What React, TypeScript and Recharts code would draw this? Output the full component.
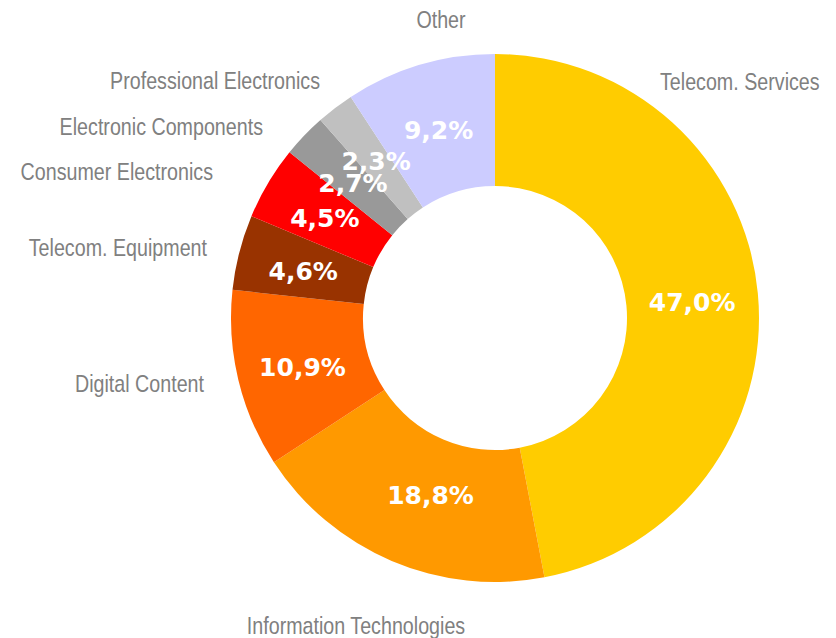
import React from "react";
import { PieChart, Pie, Cell } from "recharts";

const segments = [
  "Telecom. Services",
  "Information Technologies",
  "Digital Content",
  "Telecom. Equipment",
  "Consumer Electronics",
  "Electronic Components",
  "Professional Electronics",
  "Other",
];
const shares = [47.0, 18.8, 10.9, 4.6, 4.5, 2.7, 2.3, 9.2];

const colors = ["#FFCC00", "#FF9900", "#FF6600", "#993300", "#FF0000", "#999999", "#C0C0C0", "#CCCCFF"];

// where the category names sit, relative to the pie centre
const namePos: { dx: number; dy: number; anchor: "start" | "middle" | "end" }[] = [
  { dx: 165, dy: -236, anchor: "start" },
  { dx: -139, dy: 308, anchor: "middle" },
  { dx: -291, dy: 66, anchor: "end" },
  { dx: -288, dy: -70, anchor: "end" },
  { dx: -282, dy: -146, anchor: "end" },
  { dx: -232, dy: -191, anchor: "end" },
  { dx: -175, dy: -237, anchor: "end" },
  { dx: -54, dy: -298, anchor: "middle" },
];

// small nudges of the percentage labels off the mid-radius point
const pctNudge = [
  [0, 3],
  [13, -5],
  [0, 3],
  [0, 3],
  [0, 2],
  [1, 2],
  [1, 1],
  [0, 2],
];

const data = segments.map((name, i) => ({ name, value: shares[i] }));

const RAD = Math.PI / 180;
const NARROW = 0.82;

function renderLabel(props: any) {
  const { cx, cy, midAngle, innerRadius, outerRadius, value, index } = props;
  const r = (innerRadius + outerRadius) / 2;
  const x = cx + r * Math.cos(-midAngle * RAD) + pctNudge[index][0];
  const y = cy + r * Math.sin(-midAngle * RAD) + pctNudge[index][1];
  const pos = namePos[index];
  return (
    <g key={`lbl-${index}`}>
      <text
        x={x}
        y={y}
        fill="#fff"
        textAnchor="middle"
        dominantBaseline="central"
        fontFamily="'DejaVu Sans', Verdana, sans-serif"
        fontWeight="bold"
        fontSize={25}
      >
        {value.toFixed(1).replace(".", ",")}%
      </text>
      <text
        transform={`translate(${cx + pos.dx},${cy + pos.dy}) scale(${NARROW},1)`}
        x={0}
        y={0}
        fill="#808080"
        textAnchor={pos.anchor}
        dominantBaseline="central"
        fontFamily="'Liberation Sans', Arial, sans-serif"
        fontSize={24}
      >
        {segments[index]}
      </text>
    </g>
  );
}

export default function App() {
  return (
    <div style={{ position: "fixed", top: 0, left: 0, width: 836, height: 638, background: "#fff" }}>
      <PieChart width={836} height={638} margin={{ top: 0, right: 0, bottom: 0, left: 0 }}>
        <Pie
          data={data}
          dataKey="value"
          nameKey="name"
          cx={495}
          cy={318}
          innerRadius={132}
          outerRadius={264}
          startAngle={90}
          endAngle={-270}
          stroke="none"
          labelLine={false}
          label={renderLabel}
          isAnimationActive={false}
        >
          {data.map((_, i) => (
            <Cell key={i} fill={colors[i]} />
          ))}
        </Pie>
      </PieChart>
    </div>
  );
}
